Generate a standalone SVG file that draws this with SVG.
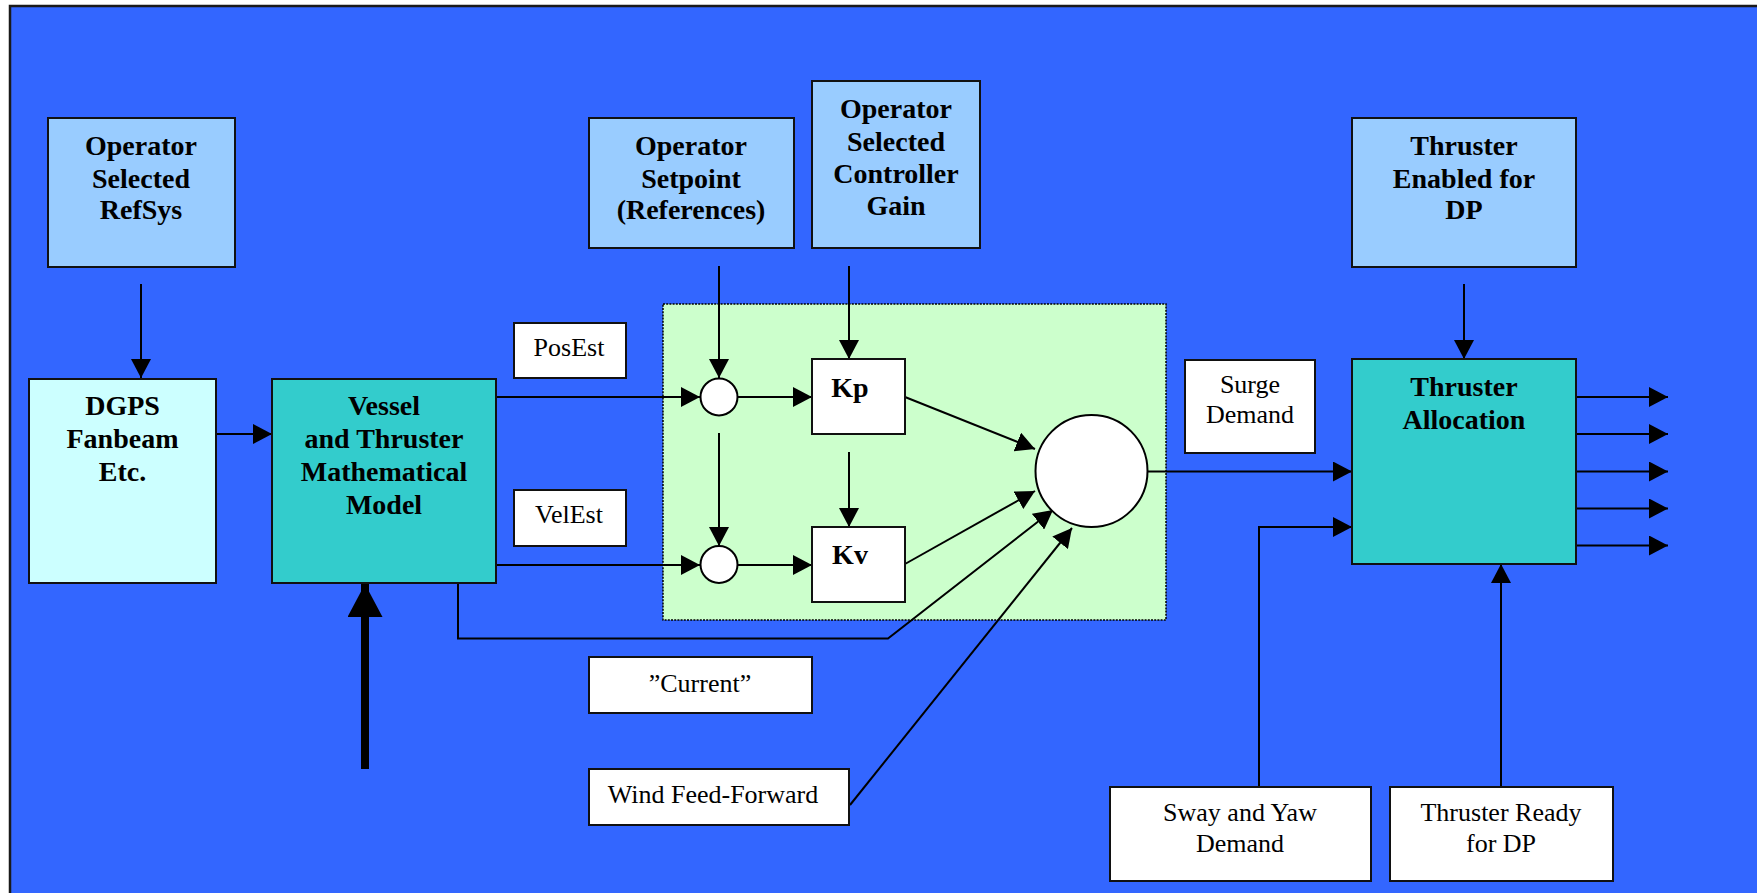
<svg xmlns="http://www.w3.org/2000/svg" width="1757" height="893" viewBox="0 0 1757 893">
  <style>
    .box { stroke: #111; stroke-width: 2; }
    .op { fill: #99CCFF; }
    .teal { fill: #33CCCC; }
    .cyan { fill: #CCFFFF; }
    .white { fill: #FFFFFF; }
    .b { font-family: "Liberation Serif", "Times New Roman", serif; font-weight: bold; font-size: 28px; text-anchor: middle; fill: #000; }
    .r { font-family: "Liberation Serif", "Times New Roman", serif; font-size: 26px; text-anchor: middle; fill: #000; }
    .wire { fill: none; stroke: #000; stroke-width: 2; }
    .arr { marker-end: url(#head); }
    .sum { fill: #fff; stroke: #000; stroke-width: 2; }
  </style>
  <defs>
    <marker id="head" markerUnits="userSpaceOnUse" markerWidth="20" markerHeight="20" refX="19" refY="10" orient="auto" viewBox="0 0 20 20">
      <path d="M0,0 L19,10 L0,20 Z" fill="#000"/>
    </marker>
    <marker id="bighead" markerUnits="userSpaceOnUse" markerWidth="34" markerHeight="36" refX="33" refY="17.5" orient="auto" viewBox="0 0 34 36">
      <path d="M0,0 L33,17.5 L0,35 Z" fill="#000"/>
    </marker>
  </defs>

  <!-- page and frame -->
  <rect x="0" y="0" width="1757" height="893" fill="#FFFFFF"/>
  <rect x="10" y="6" width="1760" height="900" fill="#3366FF" stroke="#1a1a1a" stroke-width="2.5"/>

  <!-- controller area -->
  <g id="controller">
    <rect x="663" y="304" width="503" height="316" fill="#CCFFCC" stroke="#000" stroke-width="1.5" stroke-dasharray="2 1.2"/>
  </g>

  <!-- connectors -->
  <g id="connectors">
    <line class="wire arr" x1="141" y1="284" x2="141" y2="378"/>
    <line class="wire arr" x1="216" y1="434" x2="272" y2="434"/>
    <line class="wire arr" x1="496" y1="397" x2="700" y2="397"/>
    <line class="wire arr" x1="496" y1="565" x2="700" y2="565"/>
    <line class="wire arr" x1="719" y1="266" x2="719" y2="378"/>
    <line class="wire arr" x1="719" y1="433" x2="719" y2="546"/>
    <line class="wire arr" x1="737" y1="397" x2="812" y2="397"/>
    <line class="wire arr" x1="737" y1="565" x2="812" y2="565"/>
    <line class="wire arr" x1="849" y1="266" x2="849" y2="359"/>
    <line class="wire arr" x1="849" y1="452" x2="849" y2="527"/>
    <line class="wire arr" x1="905" y1="397" x2="1035" y2="449"/>
    <line class="wire arr" x1="905" y1="564" x2="1035" y2="491"/>
    <polyline class="wire arr" points="458,583 458,638.5 888,638.5 1053,510"/>
    <line class="wire arr" x1="850" y1="805" x2="1072" y2="528"/>
    <line class="wire arr" x1="1147" y1="471.5" x2="1352" y2="471.5"/>
    <polyline class="wire arr" points="1259,787 1259,527 1352,527"/>
    <line class="wire arr" x1="1501" y1="787" x2="1501" y2="564"/>
    <line class="wire arr" x1="1464" y1="284" x2="1464" y2="359"/>
    <line class="wire arr" x1="1576" y1="397" x2="1668" y2="397"/>
    <line class="wire arr" x1="1576" y1="434" x2="1668" y2="434"/>
    <line class="wire arr" x1="1576" y1="471.5" x2="1668" y2="471.5"/>
    <line class="wire arr" x1="1576" y1="508.5" x2="1668" y2="508.5"/>
    <line class="wire arr" x1="1576" y1="545.5" x2="1668" y2="545.5"/>
    <line x1="365" y1="769" x2="365" y2="584" stroke="#000" stroke-width="8" marker-end="url(#bighead)"/>
  </g>

  <g id="refsys">
    <rect class="box op" x="48" y="118" width="187" height="149"/>
    <text class="b" x="141" y="155">Operator</text>
    <text class="b" x="141" y="187.5">Selected</text>
    <text class="b" x="141" y="219">RefSys</text>
  </g>

  <g id="setpoint">
    <rect class="box op" x="589" y="118" width="205" height="130"/>
    <text class="b" x="691" y="155">Operator</text>
    <text class="b" x="691" y="187.5">Setpoint</text>
    <text class="b" x="691" y="219">(References)</text>
  </g>

  <g id="gain">
    <rect class="box op" x="812" y="81" width="168" height="167"/>
    <text class="b" x="896" y="118">Operator</text>
    <text class="b" x="896" y="150.5">Selected</text>
    <text class="b" x="896" y="183">Controller</text>
    <text class="b" x="896" y="215">Gain</text>
  </g>

  <g id="enabled">
    <rect class="box op" x="1352" y="118" width="224" height="149"/>
    <text class="b" x="1464" y="155">Thruster</text>
    <text class="b" x="1464" y="187.5">Enabled for</text>
    <text class="b" x="1464" y="219">DP</text>
  </g>

  <g id="dgps">
    <rect class="box cyan" x="29" y="379" width="187" height="204"/>
    <text class="b" x="122.5" y="415">DGPS</text>
    <text class="b" x="122.5" y="448">Fanbeam</text>
    <text class="b" x="122.5" y="481">Etc.</text>
  </g>

  <g id="model">
    <rect class="box teal" x="272" y="379" width="224" height="204"/>
    <text class="b" x="384" y="415">Vessel</text>
    <text class="b" x="384" y="448">and Thruster</text>
    <text class="b" x="384" y="481">Mathematical</text>
    <text class="b" x="384" y="513.5">Model</text>
  </g>

  <g id="posest">
    <rect class="box white" x="514" y="323" width="112" height="55"/>
    <text class="r" x="569" y="356">PosEst</text>
  </g>

  <g id="velest">
    <rect class="box white" x="514" y="490" width="112" height="56"/>
    <text class="r" x="569" y="523">VelEst</text>
  </g>

  <g id="sum-pos">
    <circle class="sum" cx="719" cy="397" r="18.5"/>
  </g>

  <g id="sum-vel">
    <circle class="sum" cx="719" cy="564.5" r="18.5"/>
  </g>

  <g id="kp">
    <rect class="box white" x="812" y="359" width="93" height="75"/>
    <text class="b" x="850" y="397">Kp</text>
  </g>

  <g id="kv">
    <rect class="box white" x="812" y="527" width="93" height="75"/>
    <text class="b" x="850" y="563.5">Kv</text>
  </g>

  <g id="sum-total">
    <circle class="sum" cx="1091.5" cy="471" r="56"/>
  </g>

  <g id="current">
    <rect class="box white" x="589" y="657" width="223" height="56"/>
    <text class="r" x="700" y="691.5">”Current”</text>
  </g>

  <g id="wind">
    <rect class="box white" x="589" y="769" width="260" height="56"/>
    <text class="r" x="713" y="802.5">Wind Feed-Forward</text>
  </g>

  <g id="surge">
    <rect class="box white" x="1185" y="360" width="130" height="93"/>
    <text class="r" x="1250" y="392.5">Surge</text>
    <text class="r" x="1250" y="423">Demand</text>
  </g>

  <g id="allocation">
    <rect class="box teal" x="1352" y="359" width="224" height="205"/>
    <text class="b" x="1464" y="396">Thruster</text>
    <text class="b" x="1464" y="429">Allocation</text>
  </g>

  <g id="sway">
    <rect class="box white" x="1110" y="787" width="261" height="94"/>
    <text class="r" x="1240" y="820.5">Sway and Yaw</text>
    <text class="r" x="1240" y="851.5">Demand</text>
  </g>

  <g id="ready">
    <rect class="box white" x="1390" y="787" width="223" height="94"/>
    <text class="r" x="1501" y="820.5">Thruster Ready</text>
    <text class="r" x="1501" y="851.5">for DP</text>
  </g>
</svg>
